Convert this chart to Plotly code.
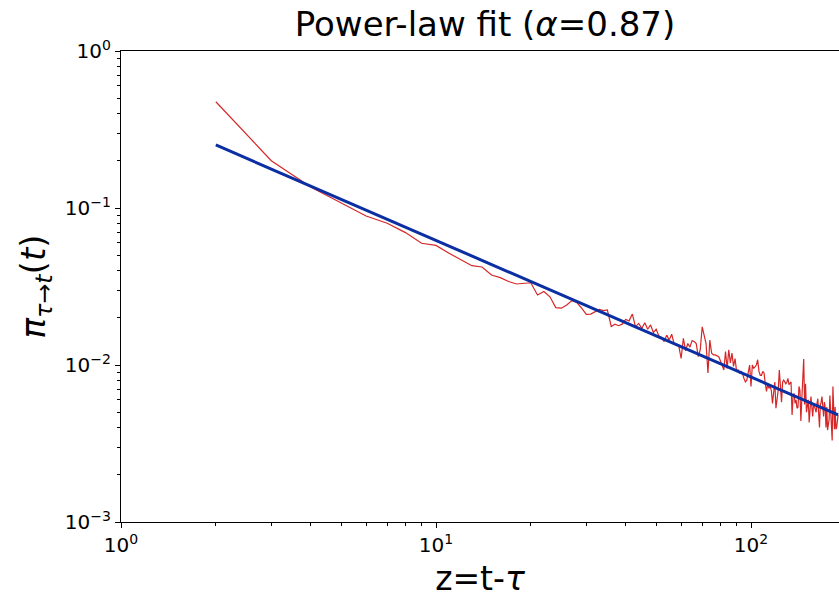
import plotly.graph_objects as go

# Observed decay curve (z = t - tau, integer lags)
z_vals = list(range(2, 190))
pi_vals = [
    0.475, 0.200, 0.136, 0.107, 0.089, 0.080, 0.0697, 0.0596, 0.0578,          # 2-10
    0.0515, 0.0471, 0.0429, 0.0421, 0.0374, 0.0360, 0.0340, 0.0328, 0.0331, 0.0334,  # 11-20
    0.0279, 0.0294, 0.0272, 0.0232, 0.0230, 0.0241, 0.0257, 0.0250, 0.0230, 0.0210,  # 21-30
    0.0211, 0.0218, 0.0226, 0.0222, 0.0224, 0.0176, 0.0182, 0.0178, 0.0182, 0.0195,  # 31-40
    0.0191, 0.0211, 0.0175, 0.0184, 0.0171, 0.0186, 0.0169, 0.0180, 0.0161, 0.0169,  # 41-50
    0.0153, 0.0150, 0.0141, 0.0155, 0.0144, 0.0157, 0.0137, 0.0135, 0.0132, 0.0110,  # 51-60
    0.0148, 0.0123, 0.0137, 0.0130, 0.0143, 0.0141, 0.0137, 0.0113, 0.0125, 0.0175,  # 61-70
    0.0151, 0.0137, 0.0089, 0.0144, 0.0119, 0.0116, 0.0116, 0.0114, 0.0113, 0.0106,  # 71-80
    0.0100, 0.0093, 0.0122, 0.0095, 0.0125, 0.0103, 0.0119, 0.0098, 0.0110, 0.0091,  # 81-90
    0.0093, 0.0089, 0.0091, 0.0088, 0.0082, 0.0078, 0.0080, 0.0093, 0.0100, 0.0073,  # 91-100
    0.0100, 0.0095, 0.0098, 0.0100, 0.0108, 0.0091, 0.0086, 0.0086, 0.0091, 0.0089,  # 101-110
    0.0076, 0.0068, 0.0076, 0.0071, 0.0073, 0.0069, 0.0057, 0.0066, 0.0078, 0.0053,  # 111-120
    0.0060, 0.0069, 0.0093, 0.0069, 0.0058, 0.0078, 0.0080, 0.0078, 0.0076, 0.0078,  # 121-130
    0.0082, 0.0075, 0.0076, 0.0078, 0.0048, 0.0063, 0.0066, 0.0057, 0.0060, 0.0053,  # 131-140
    0.0054, 0.0073, 0.0069, 0.0044, 0.0061, 0.0080, 0.0109, 0.0056, 0.0076, 0.0050,  # 141-150
    0.0056, 0.0060, 0.0043, 0.0056, 0.0063, 0.0054, 0.0047, 0.0057, 0.0054, 0.0053,  # 151-160
    0.0050, 0.0057, 0.0061, 0.0049, 0.0040, 0.0056, 0.0058, 0.0063, 0.0054, 0.0047,  # 161-170
    0.0058, 0.0054, 0.0040, 0.0054, 0.00385, 0.0043, 0.0045, 0.0064, 0.0049, 0.0037,  # 171-180
    0.0033, 0.0073, 0.0042, 0.0039, 0.0054, 0.0039, 0.0040, 0.0043, 0.0048,          # 181-189
]

# Power-law fit endpoints
fit_z = [2, 189]
fit_pi = [0.252, 0.00482]

x_tick_vals = [1, 10, 100]
x_tick_text = ["10<sup>0</sup>", "10<sup>1</sup>", "10<sup>2</sup>"]
y_tick_vals = [0.001, 0.01, 0.1, 1]
y_tick_text = ["10<sup>\u22123</sup>", "10<sup>\u22122</sup>", "10<sup>\u22121</sup>", "10<sup>0</sup>"]

x_minor = [m * 10 ** k for k in range(0, 3) for m in range(2, 10)]
y_minor = [m * 10.0 ** k for k in range(-3, 0) for m in range(2, 10)]

fig = go.Figure()
fig.add_trace(go.Scatter(x=z_vals, y=pi_vals, mode="lines",
                         line=dict(color="#d62728", width=1.2), showlegend=False))
fig.add_trace(go.Scatter(x=fit_z, y=fit_pi, mode="lines",
                         line=dict(color="#0b2ea3", width=3), showlegend=False))

W, H = 839, 602
L, R, T, B = 121, 0, 51, 80
fig.update_layout(
    width=W, height=H,
    margin=dict(l=L, r=R, t=T, b=B),
    paper_bgcolor="white", plot_bgcolor="white",
    font=dict(family="DejaVu Sans", color="black"),
    title=dict(text="Power-law fit (<i>\u03b1</i>=0.87)", x=485 / W, xanchor="center",
               y=1 - 24 / H, yanchor="middle", font=dict(size=34)),
)
fig.update_xaxes(
    type="log", range=[0, (W - L) / 315.0],
    tickmode="array", tickvals=x_tick_vals, ticktext=x_tick_text,
    ticks="outside", ticklen=5, tickwidth=1, tickcolor="black",
    minor=dict(tickmode="array", tickvals=x_minor, ticks="outside", ticklen=3, tickwidth=0.8, tickcolor="black", showgrid=False),
    showline=True, linecolor="black", linewidth=1.3, mirror=True,
    showgrid=False, zeroline=False,
    tickfont=dict(size=20),
    title=dict(text="z=t-<i>\u03c4</i>", font=dict(size=33), standoff=10),
)
fig.update_yaxes(
    type="log", range=[-3, 0],
    tickmode="array", tickvals=y_tick_vals, ticktext=y_tick_text,
    ticks="outside", ticklen=5, tickwidth=1, tickcolor="black",
    minor=dict(tickmode="array", tickvals=y_minor, ticks="outside", ticklen=3, tickwidth=0.8, tickcolor="black", showgrid=False),
    showline=True, linecolor="black", linewidth=1.3, mirror=False,
    showgrid=False, zeroline=False,
    tickfont=dict(size=20),
    title=dict(text="<i>\u03c0</i><sub><i>\u03c4</i>\u2192<i>t</i></sub>(<i>t</i>)", font=dict(size=34), standoff=8),
)

fig.write_html("out.html", config={"displayModeBar": False},
               post_script="document.body.style.margin='0';document.body.style.overflow='hidden';")
